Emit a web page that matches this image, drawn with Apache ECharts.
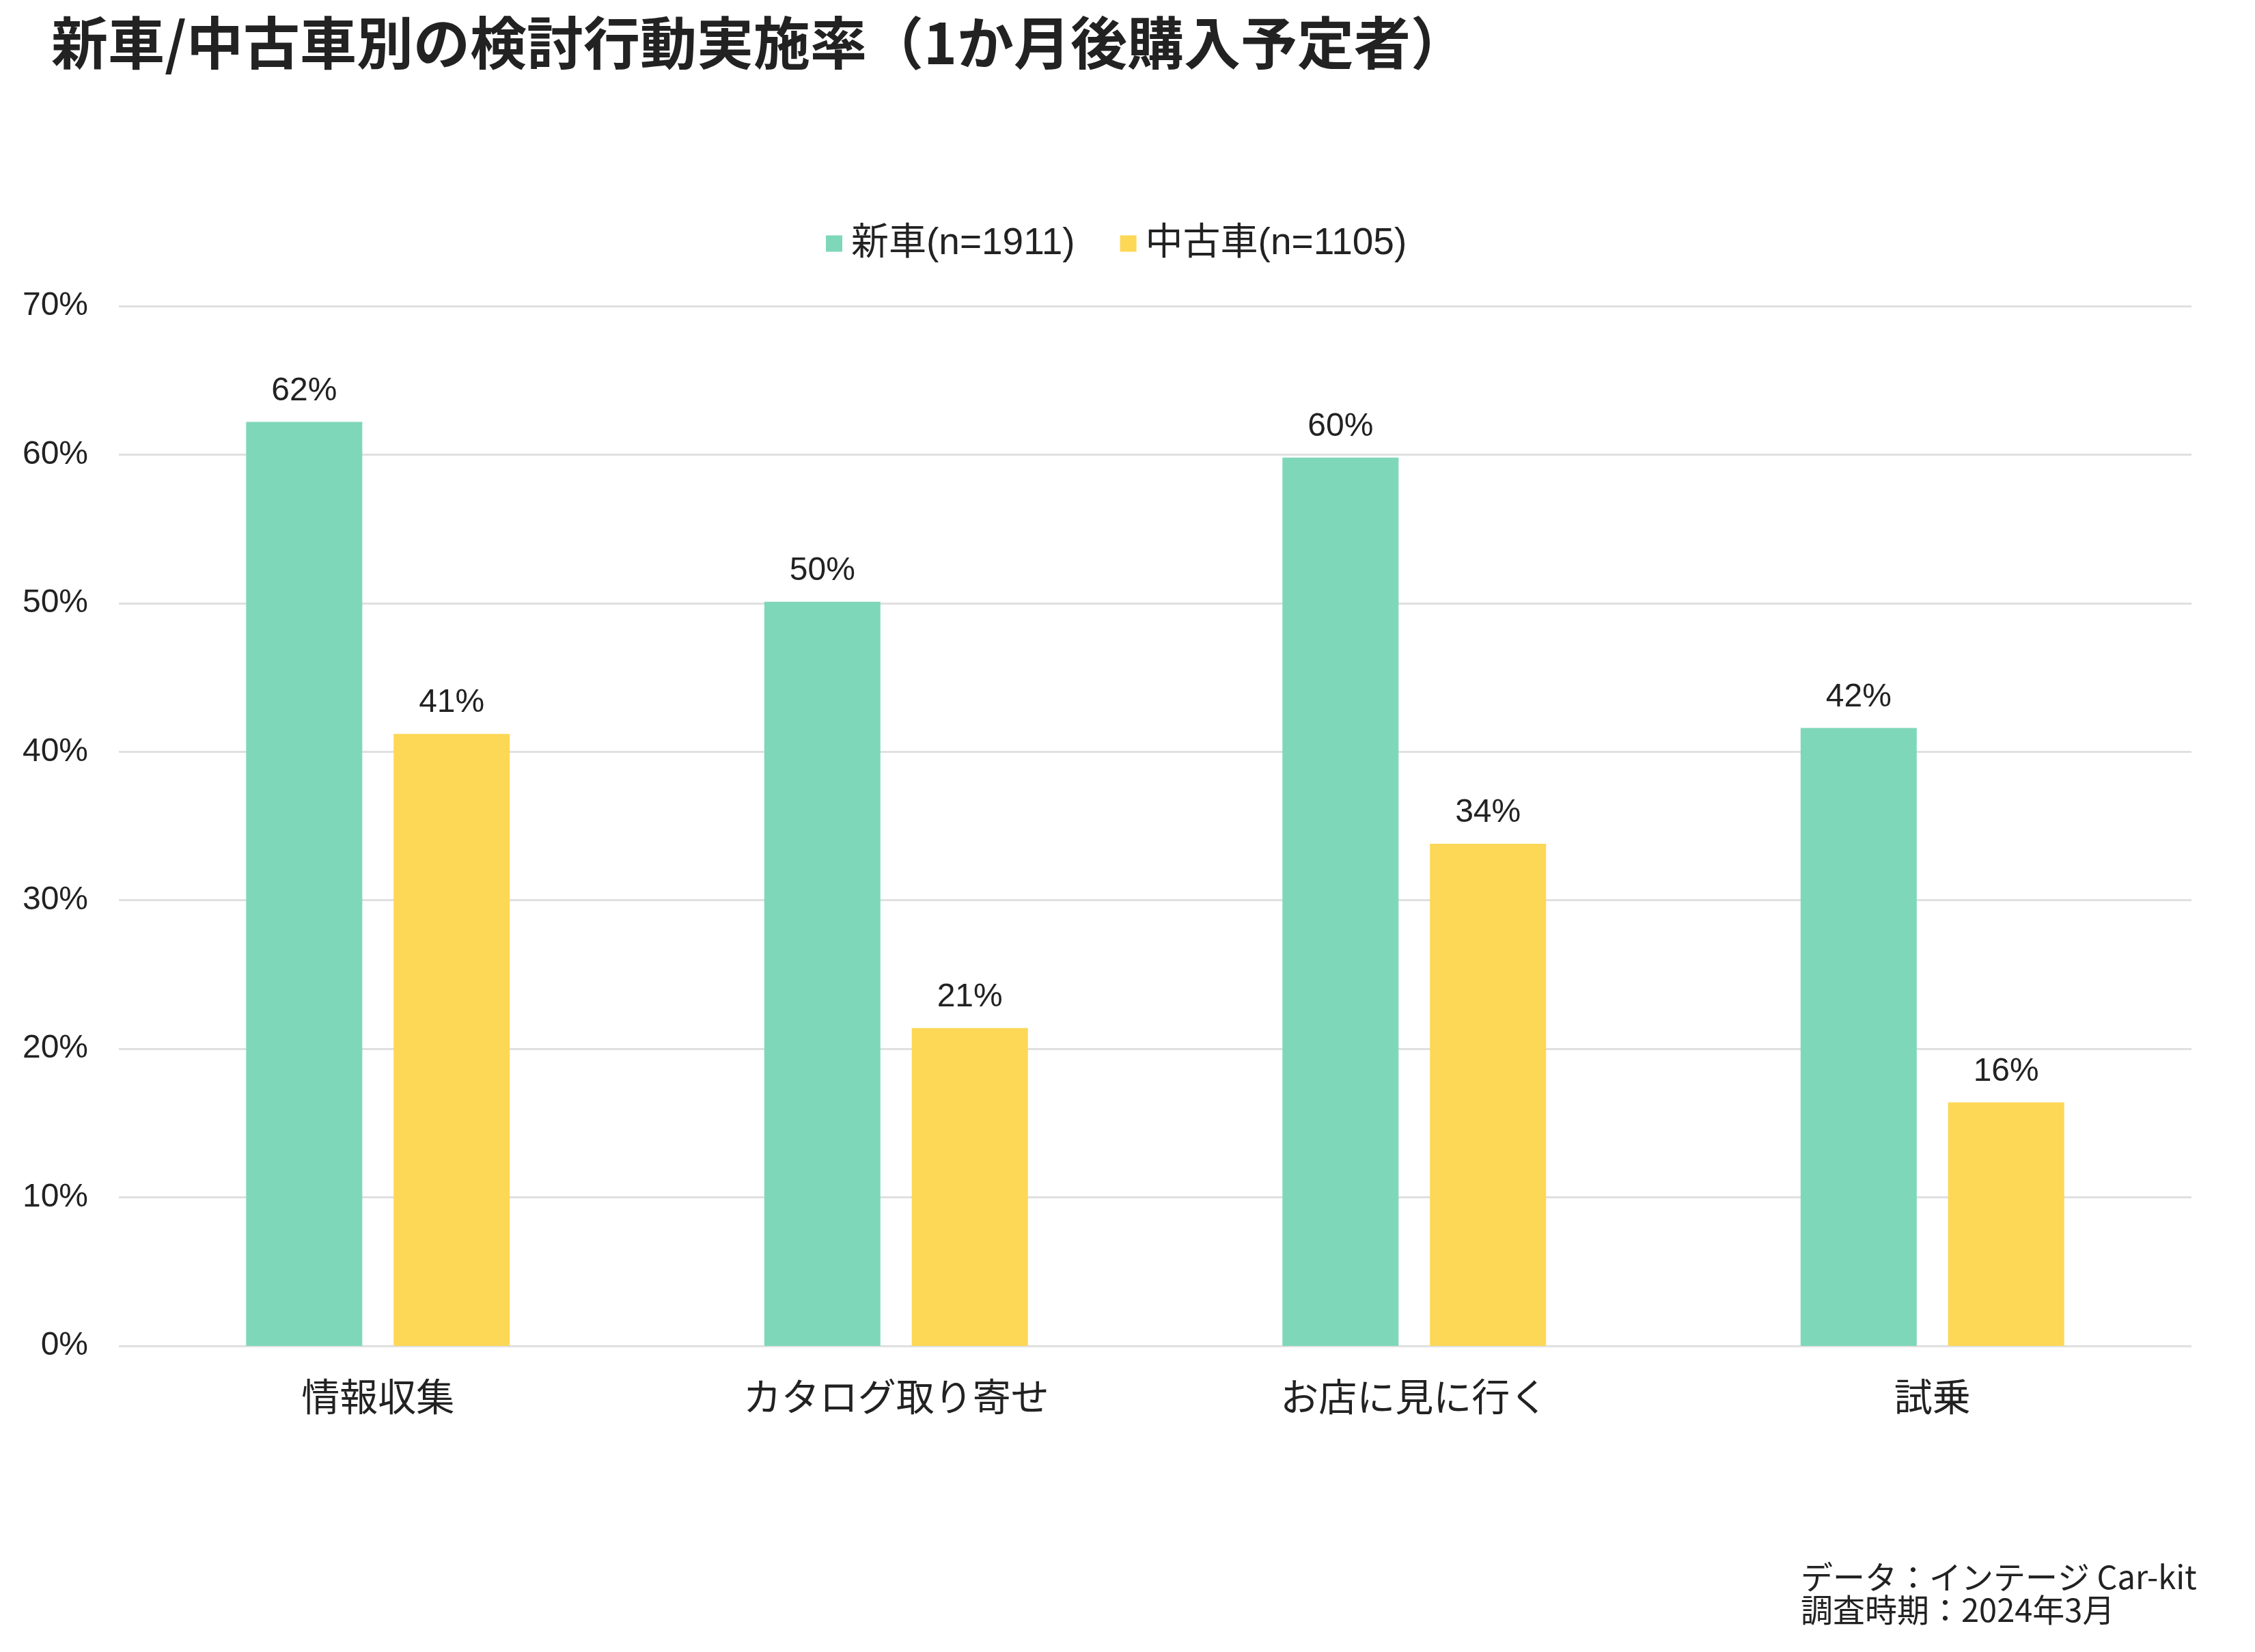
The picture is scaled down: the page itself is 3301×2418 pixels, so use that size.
<!DOCTYPE html>
<html>
<head>
<meta charset="utf-8">
<script src="https://cdn.jsdelivr.net/npm/echarts@6/dist/echarts.min.js"></script>
<style>
  html, body { margin: 0; padding: 0; background: #fff; }
  #chart { width: 3301px; height: 2418px; }
</style>
</head>
<body>
<div id="chart"></div>
<script>
// 新車/中古車別の検討行動実施率
var categories = ['情報収集', 'カタログ取り寄せ', 'お店に見に行く', '試乗'];
var seriesNames = ['新車(n=1911)', '中古車(n=1105)'];
var newCar = [62.2, 50.1, 59.8, 41.6];
var usedCar = [41.2, 21.4, 33.8, 16.4];
var yTicks = [0, 10, 20, 30, 40, 50, 60, 70];

var latin = "'Liberation Sans', 'Noto Sans CJK JP', sans-serif";
var cjk = "'Noto Sans CJK JP', sans-serif";

var chart = echarts.init(document.getElementById('chart'));

function barSeries(name, data, color) {
  return {
    name: name,
    type: 'bar',
    barWidth: 170,
    barGap: '27%',
    itemStyle: { color: color },
    label: {
      show: true,
      position: 'top',
      distance: 21,
      fontSize: 48,
      fontFamily: latin,
      color: '#222',
      formatter: function(p) { return Math.round(p.value) + '%'; }
    },
    data: data
  };
}

chart.setOption({
  animation: false,
  backgroundColor: '#fff',
  title: {
    text: '新車/中古車別の検討行動実施率（1か月後購入予定者）',
    left: 70,
    top: 16,
    textStyle: { fontSize: 83, fontWeight: 'bold', color: '#222', fontFamily: cjk }
  },
  legend: {
    left: 1204,
    top: 324,
    itemWidth: 24,
    itemHeight: 24,
    itemGap: 66,
    icon: 'rect',
    textStyle: { fontSize: 55, color: '#222', fontFamily: latin, padding: [0, 0, 0, 8] },
    data: seriesNames
  },
  grid: { left: 174, right: 93, top: 448, bottom: 448 },
  xAxis: {
    type: 'category',
    data: categories,
    axisLine: { show: false },
    axisTick: { show: false },
    axisLabel: { fontSize: 56, color: '#222', margin: 46, fontFamily: cjk }
  },
  yAxis: {
    type: 'value',
    min: yTicks[0],
    max: yTicks[yTicks.length - 1],
    interval: 10,
    axisLine: { show: false },
    axisTick: { show: false },
    axisLabel: { fontSize: 48, color: '#222', margin: 45, fontFamily: latin, formatter: '{value}%' },
    splitLine: { lineStyle: { color: '#e0e0e0', width: 3 } }
  },
  series: [
    barSeries(seriesNames[0], newCar, '#7fd7b9'),
    barSeries(seriesNames[1], usedCar, '#fdd756')
  ],
  graphic: [{
    type: 'text',
    left: 2636,
    top: 2284,
    style: {
      text: 'データ：インテージ Car-kit\n調査時期：2024年3月',
      fontSize: 47,
      lineHeight: 48,
      fill: '#222',
      fontFamily: cjk
    }
  }]
});
</script>
</body>
</html>
